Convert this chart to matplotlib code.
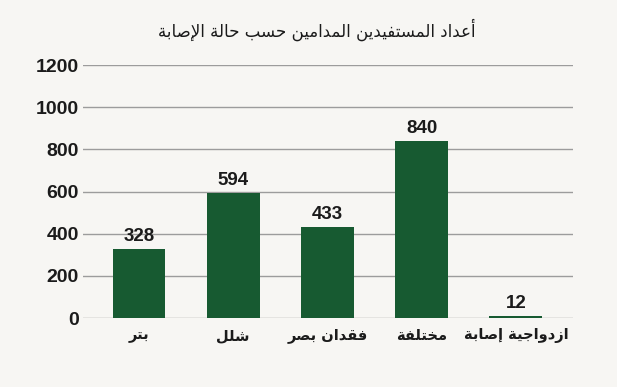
import matplotlib
matplotlib.use('Agg')
import matplotlib.pyplot as plt

# chart data
categories = ['بتر', 'شلل', 'فقدان بصر', 'مختلفة', 'ازدواجية إصابة']
values = [328, 594, 433, 840, 12]
y_ticks = [0, 200, 400, 600, 800, 1000, 1200]
title = 'أعداد المستفيدين المدامين حسب حالة الإصابة'

bar_color = '#175a31'
bg_color = '#f7f6f3'
grid_color = '#9c9c9c'
text_color = '#1b1b1b'

# matplotlib does no arabic shaping, so map letters to presentation forms
# value = first code point of the letter's forms (isolated, final, initial, medial)
FORMS = {
    'آ': 0xFE81, 'أ': 0xFE83, 'ؤ': 0xFE85, 'إ': 0xFE87, 'ئ': 0xFE89,
    'ا': 0xFE8D, 'ب': 0xFE8F, 'ة': 0xFE93, 'ت': 0xFE95, 'ث': 0xFE99,
    'ج': 0xFE9D, 'ح': 0xFEA1, 'خ': 0xFEA5, 'د': 0xFEA9, 'ذ': 0xFEAB,
    'ر': 0xFEAD, 'ز': 0xFEAF, 'س': 0xFEB1, 'ش': 0xFEB5, 'ص': 0xFEB9,
    'ض': 0xFEBD, 'ط': 0xFEC1, 'ظ': 0xFEC5, 'ع': 0xFEC9, 'غ': 0xFECD,
    'ف': 0xFED1, 'ق': 0xFED5, 'ك': 0xFED9, 'ل': 0xFEDD, 'م': 0xFEE1,
    'ن': 0xFEE5, 'ه': 0xFEE9, 'و': 0xFEED, 'ى': 0xFEEF, 'ي': 0xFEF1,
}
RIGHT_ONLY = set('آأؤإاةدذرزوى')
LAM_ALEF = {'آ': 0xFEF5, 'أ': 0xFEF7, 'إ': 0xFEF9, 'ا': 0xFEFB}


def shape(text):
    out = []
    i = 0
    n = len(text)
    while i < n:
        c = text[i]
        if c not in FORMS:
            out.append(c)
            i += 1
            continue
        prev = text[i - 1] if i > 0 else ''
        link_prev = prev in FORMS and prev not in RIGHT_ONLY
        # lam + alef ligature
        if c == 'ل' and i + 1 < n and text[i + 1] in LAM_ALEF:
            out.append(chr(LAM_ALEF[text[i + 1]] + (1 if link_prev else 0)))
            i += 2
            continue
        nxt = text[i + 1] if i + 1 < n else ''
        link_next = c not in RIGHT_ONLY and nxt in FORMS
        if link_prev and link_next:
            form = 3
        elif link_prev:
            form = 1
        elif link_next:
            form = 2
        else:
            form = 0
        out.append(chr(FORMS[c] + form))
        i += 1
    return ''.join(reversed(out))


fig = plt.figure(figsize=(6.17, 3.87), dpi=100, facecolor=bg_color)
ax = fig.add_axes([0.1345, 0.178, 0.794, 0.654])
ax.set_facecolor(bg_color)

x = range(len(categories))
bars = ax.bar(x, values, width=0.56, color=bar_color, zorder=3)

for rect, v in zip(bars, values):
    ax.annotate(str(v), (rect.get_x() + rect.get_width() / 2, v),
                xytext=(0, 2.5), textcoords='offset points',
                ha='center', va='bottom', fontsize=13.5, fontweight='bold',
                family=['Liberation Sans', 'DejaVu Sans'], color=text_color)

ax.set_ylim(0, 1200)
ax.set_xlim(-0.594, 4.605)
ax.set_yticks(y_ticks)
ax.set_yticklabels([str(t) for t in y_ticks], fontsize=14, fontweight='bold',
                   family=['Liberation Sans', 'DejaVu Sans'], color=text_color)
ax.set_xticks(list(x))
ax.set_xticklabels([shape(c) for c in categories], fontsize=10.5, fontweight='bold',
                   family='DejaVu Sans', color=text_color)
ax.tick_params(axis='y', length=0, pad=3)
ax.tick_params(axis='x', length=0, pad=7)

for t in y_ticks:
    ax.axhline(t, color=grid_color, linewidth=1.0, zorder=1)

for s in ax.spines.values():
    s.set_visible(False)

fig.text(0.513, 0.922, shape(title), ha='center', va='center', fontsize=12,
         family='DejaVu Sans', color=text_color)

fig.savefig('out.png', dpi=100, facecolor=bg_color)
